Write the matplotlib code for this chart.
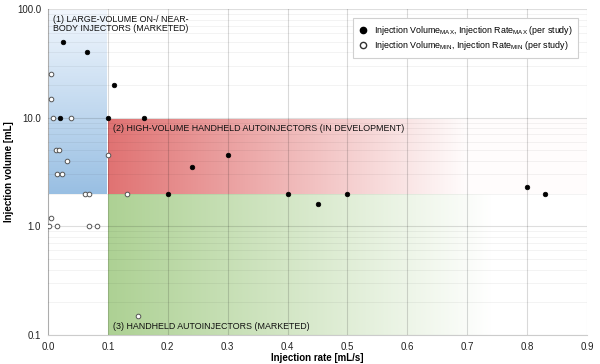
import numpy as np
import matplotlib
matplotlib.use("Agg")
import matplotlib.pyplot as plt
from matplotlib.ticker import FixedLocator, LogLocator, NullFormatter
from matplotlib.lines import Line2D

plt.rcParams['font.family'] = ['Liberation Sans', 'DejaVu Sans']

# Data: max (filled) per study
max_rate = [0.025, 0.065, 0.11, 0.02, 0.10, 0.16, 0.30, 0.24, 0.20, 0.40, 0.45, 0.50, 0.80, 0.83]
max_vol = [50, 40, 20, 10, 10, 10, 4.5, 3.5, 2.0, 2.0, 1.6, 2.0, 2.3, 2.0]
# min (open) per study
min_rate = [0.005, 0.005, 0.008, 0.038, 0.013, 0.019, 0.032, 0.015, 0.023, 0.10,
            0.062, 0.068, 0.132, 0.005, 0.002, 0.015, 0.068, 0.081, 0.15]
min_vol = [25, 15, 10, 10, 5, 5, 4, 3, 3, 4.5, 2, 2, 2, 1.2, 1, 1, 1, 1, 0.15]

x_ticks = [0.0, 0.1, 0.2, 0.3, 0.4, 0.5, 0.6, 0.7, 0.8, 0.9]
y_ticks = [0.1, 1.0, 10.0, 100.0]
y_labels = ["0.1", "1.0", "10.0", "100.0"]

fig = plt.figure(figsize=(6.0, 3.64), dpi=100)
ax = fig.add_axes([48/600, 1-335/364, (587-48)/600, (335-9)/364])
ax.set_xscale('linear')
ax.set_yscale('log')

def grad_h(c_left, c_right, fade_end=0.75, n=256):
    t = np.linspace(0, 1, n)
    s = np.clip(t / fade_end, 0, 1)
    c = np.array(c_left)[None, :] * (1 - s)[:, None] + np.array(c_right)[None, :] * s[:, None]
    return c[None, :, :]

def grad_v_log(c_top, c_bottom, v_top, v_bottom, n=2048):
    # rows are evenly spaced in data units; blend evenly in log space
    v = np.linspace(v_top, v_bottom, n)
    t = (np.log10(v_top) - np.log10(v)) / (np.log10(v_top) - np.log10(v_bottom))
    c = np.array(c_top)[None, :] * (1 - t)[:, None] + np.array(c_bottom)[None, :] * t[:, None]
    return c[:, None, :]

# Region (1) blue: rate 0-0.1, vol 2-100, vertical gradient
blue = grad_v_log((0.95, 0.97, 0.995), (0.60, 0.75, 0.89), 100, 2)
ax.imshow(blue, extent=[0, 0.1, 2, 100], aspect='auto', origin='upper', zorder=0,
          interpolation='bilinear')
# Region (2) red: rate 0.1-0.9, vol 2-10
red = grad_h((0.88, 0.45, 0.45), (1.0, 0.99, 0.99), fade_end=0.75)
ax.imshow(red, extent=[0.1, 0.9, 2, 10], aspect='auto', origin='upper', zorder=0,
          interpolation='bilinear')
# Region (3) green: rate 0.1-0.9, vol 0.1-2
green = grad_h((0.68, 0.82, 0.58), (1.0, 1.0, 1.0), fade_end=0.8)
ax.imshow(green, extent=[0.1, 0.9, 0.1, 2], aspect='auto', origin='upper', zorder=0,
          interpolation='bilinear')
ax.set_xlim(0, 0.9)
ax.set_ylim(0.1, 100)

# grid
ax.xaxis.set_major_locator(FixedLocator(x_ticks))
ax.set_xticklabels([f"{v:.1f}" for v in x_ticks])
ax.yaxis.set_major_locator(FixedLocator(y_ticks))
ax.set_yticklabels(y_labels)
ax.yaxis.set_minor_locator(LogLocator(base=10, subs=np.arange(2, 10)))
ax.yaxis.set_minor_formatter(NullFormatter())
ax.grid(True, which='major', axis='x', color='black', alpha=0.15, lw=0.8, zorder=1)
ax.grid(True, which='major', axis='y', color='black', alpha=0.13, lw=0.8, zorder=1)
ax.grid(True, which='minor', axis='y', color='black', alpha=0.055, lw=0.6, zorder=1)
ax.set_axisbelow(False)
for gl in ax.get_xgridlines() + ax.get_ygridlines():
    gl.set_zorder(1)
ax.tick_params(which='both', length=0, labelsize=7, colors='#222222', pad=5)
for s in ['top', 'right']:
    ax.spines[s].set_visible(False)
for s in ['left', 'bottom']:
    ax.spines[s].set_color('#cccccc')
    ax.spines[s].set_linewidth(0.8)

ax.scatter(min_rate, min_vol, s=11, facecolors='white', edgecolors='#555555',
           linewidths=0.7, zorder=3)
ax.scatter(max_rate, max_vol, s=11, facecolors='black', edgecolors='black',
           linewidths=0.5, zorder=4)

ax.text(0.008, 88, "(1) LARGE-VOLUME ON-/ NEAR-\nBODY INJECTORS (MARKETED)",
        fontsize=6.4, va='top', ha='left', color='#111111', linespacing=1.05, zorder=5)
ax.text(0.108, 8.7, "(2) HIGH-VOLUME HANDHELD AUTOINJECTORS (IN DEVELOPMENT)",
        fontsize=6.4, va='top', ha='left', color='#111111', zorder=5)
ax.text(0.108, 0.108, "(3) HANDHELD AUTOINJECTORS (MARKETED)",
        fontsize=6.4, va='bottom', ha='left', color='#111111', zorder=5)

ax.set_xlabel("Injection rate [mL/s]", fontsize=7, fontweight='bold', labelpad=1)
ax.set_ylabel("Injection volume [mL]", fontsize=7, fontweight='bold', labelpad=2)

handles = [
    Line2D([], [], marker='o', ls='none', markersize=4.5, markerfacecolor='black',
           markeredgecolor='black'),
    Line2D([], [], marker='o', ls='none', markersize=4.5, markerfacecolor='white',
           markeredgecolor='#333333'),
]
labels = [r"Injection Volume$_{\mathregular{MAX}}$, Injection Rate$_{\mathregular{MAX}}$ (per study)",
          r"Injection Volume$_{\mathregular{MIN}}$, Injection Rate$_{\mathregular{MIN}}$ (per study)"]
leg = ax.legend(handles, labels, loc='upper right', bbox_to_anchor=(0.992, 0.985),
                fontsize=6.4, frameon=True, fancybox=False, edgecolor='#d0d0d0',
                framealpha=1, handletextpad=0.8, borderpad=0.6, labelspacing=0.3,
                handlelength=1.0)
leg.get_frame().set_linewidth(0.8)
leg.set_zorder(6)

fig.savefig("out.png", dpi=100)
